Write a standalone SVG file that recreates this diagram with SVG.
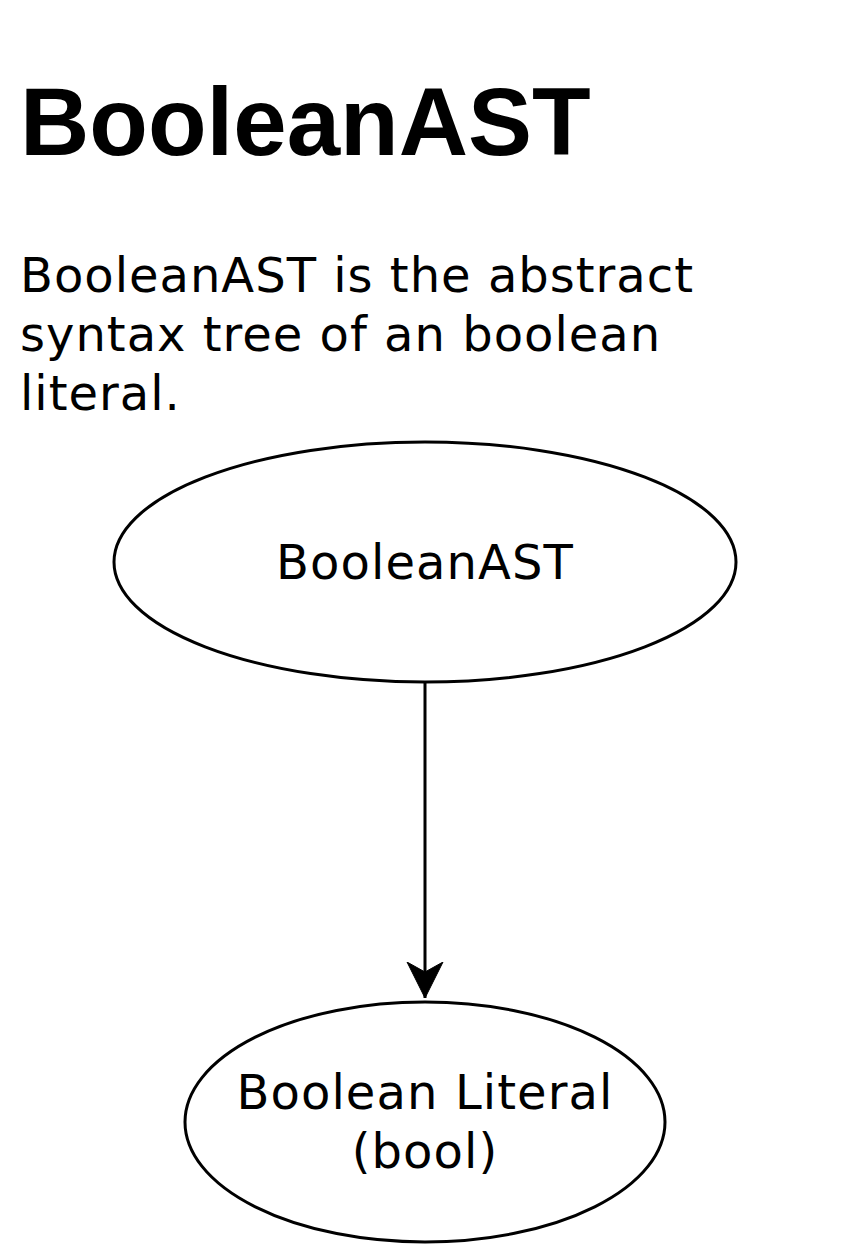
<svg xmlns="http://www.w3.org/2000/svg" width="848" height="1244" viewBox="0 0 848 1244">
<style>
.title{font-family:"Liberation Sans",Arial,sans-serif;font-weight:bold;font-size:96px;fill:#000}
.body{font-family:"DejaVu Sans",Verdana,sans-serif;font-size:48px;fill:#000;letter-spacing:1px}
.node{fill:#fff;stroke:#000;stroke-width:3}
.lbl{font-family:"DejaVu Sans",Verdana,sans-serif;font-size:48px;fill:#000;text-anchor:middle;letter-spacing:1.1px}
.edge{fill:none;stroke:#000;stroke-width:3}
</style>
<defs>
<marker id="arrow" markerUnits="userSpaceOnUse" markerWidth="40" markerHeight="40" refX="36" refY="18" orient="auto" viewBox="0 0 40 36">
<path d="M0,0 L36,18 L0,36 L10,18 Z" fill="#000" stroke="#000" stroke-width="1"/>
</marker>
</defs>
<rect width="848" height="1244" fill="#fff"/>
<g id="title">
<text class="title" x="20" y="155">BooleanAST</text>
</g>
<g id="description">
<text class="body" x="20" y="292">BooleanAST is the abstract</text>
<text class="body" x="20" y="351">syntax tree of an boolean</text>
<text class="body" x="20" y="410">literal.</text>
</g>
<g id="connectors">
<path class="edge" d="M425,682 L425,998" marker-end="url(#arrow)"/>
</g>
<g id="node-booleanast">
<ellipse class="node" cx="425" cy="562" rx="311" ry="120"/>
<text class="lbl" x="425" y="579">BooleanAST</text>
</g>
<g id="node-literal">
<ellipse class="node" cx="425" cy="1122" rx="240" ry="120"/>
<text class="lbl" x="425" y="1109">Boolean Literal</text>
<text class="lbl" x="425" y="1168">(bool)</text>
</g>
</svg>
